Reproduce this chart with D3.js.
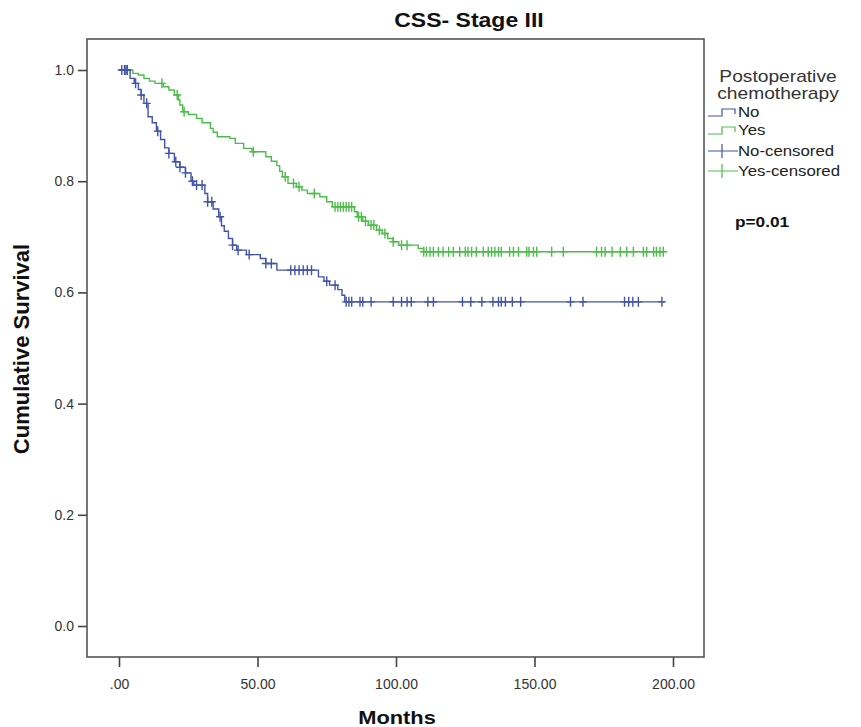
<!DOCTYPE html>
<html lang="en">
<head>
<meta charset="UTF-8">
<title>CSS- Stage III</title>
<script src="https://d3js.org/d3.v7.min.js"></script>
<style>
  body { margin: 0; background: #fff; }
  text { font-family: Arial, "Liberation Sans", sans-serif; }
</style>
</head>
<body>
<div id="chart"></div>
<script>
// Kaplan-Meier steps: time of drop, survival after drop
var noTimes = [4, 5.5, 7, 8, 9, 10.5, 12, 13.5, 15, 16.5, 18, 20, 22, 24, 26, 27, 31, 32, 34, 36, 37, 38, 39.5, 41, 42.5, 46, 51, 53, 57, 72, 74, 76, 79, 80.5, 81.5];
var noSurv  = [0.985, 0.976, 0.965, 0.955, 0.94, 0.916, 0.905, 0.89, 0.875, 0.86, 0.85, 0.835, 0.825, 0.815, 0.80, 0.793, 0.778, 0.763, 0.75, 0.736, 0.72, 0.71, 0.697, 0.685, 0.676, 0.668, 0.661, 0.652, 0.64, 0.628, 0.62, 0.613, 0.605, 0.595, 0.583];
var noCensored = [1, 2, 2.5, 3, 6, 8, 10, 14, 18, 20.5, 22, 24, 26.5, 28, 30, 32, 33.5, 36.5, 41, 43, 47, 53, 55, 62, 63.5, 65, 66.5, 68, 69.5, 75, 78, 82, 83, 84, 87, 88, 91, 99, 102, 104, 105.5, 111.5, 113.5, 124, 127, 131, 135, 137, 138, 139.5, 142, 145, 163, 167.5, 182.5, 184, 185.5, 187.5, 196];

var yesTimes = [5, 7, 9, 11, 13, 16, 18, 20, 21.5, 22, 23, 25, 28, 30, 33, 34, 35.5, 40, 42, 45, 48, 53, 55, 57, 58, 59, 61, 64, 66, 68, 72.5, 75, 77, 85, 86, 88, 90, 93, 95, 97, 99, 101, 108, 110];
var yesSurv  = [0.994, 0.991, 0.985, 0.98, 0.976, 0.97, 0.964, 0.955, 0.946, 0.937, 0.925, 0.92, 0.913, 0.905, 0.895, 0.888, 0.88, 0.877, 0.868, 0.859, 0.853, 0.844, 0.836, 0.828, 0.818, 0.808, 0.796, 0.79, 0.784, 0.778, 0.772, 0.763, 0.754, 0.745, 0.736, 0.728, 0.721, 0.712, 0.706, 0.697, 0.691, 0.685, 0.679, 0.673];
var yesCensored = [3, 15.5, 21, 23.5, 48.5, 60, 63, 65, 70.5, 78, 79, 80, 81, 82, 83, 84, 86.5, 87.5, 89, 91, 92, 94, 96, 99, 102, 104, 110, 111, 112.3, 113.5, 115.3, 117, 119, 120.7, 123, 125, 126, 127.3, 129, 131.5, 133.3, 134.5, 135.7, 137, 138, 141, 142.4, 144.2, 147.2, 148, 149.6, 150.8, 156.2, 160.4, 172.4, 174.2, 175.5, 178, 181, 183.3, 185.7, 189.3, 190.5, 193, 194, 195.3, 196.5];

var lastTime = 197;
var xTicks = [0, 50, 100, 150, 200];
var yTicks = [0, 0.2, 0.4, 0.6, 0.8, 1.0];
var legendLabels = ["No", "Yes", "No-censored", "Yes-censored"];

var blue = "#4254aa", green = "#4cbd4a";

var W = 861, H = 727;
var frame = {left: 87, right: 704, top: 39, bottom: 657};

var svg = d3.select("#chart").append("svg")
    .attr("width", W).attr("height", H);
svg.append("rect").attr("width", W).attr("height", H).attr("fill", "#fff");

var x = d3.scaleLinear().domain([0, 200]).range([119, 673]);
var y = d3.scaleLinear().domain([0, 1]).range([626, 70]);

// text in the source image is a bit wider than plain Arial
function label(px, py, str, size, bold, anchor, sx, color) {
    return svg.append("text")
        .attr("transform", "translate(" + px + "," + py + ") scale(" + sx + ",1)")
        .attr("text-anchor", anchor || "start")
        .style("font-size", size + "px")
        .style("font-weight", bold ? "bold" : "normal")
        .attr("fill", color || "#111")
        .text(str);
}

// frame
svg.append("rect")
    .attr("x", frame.left).attr("y", frame.top)
    .attr("width", frame.right - frame.left).attr("height", frame.bottom - frame.top)
    .attr("fill", "none").attr("stroke", "#555").attr("stroke-width", 1.6);

// axes
var yAxis = d3.axisLeft(y).tickValues(yTicks).tickSize(9).tickPadding(4)
    .tickFormat(d3.format(".1f"));
svg.append("g").attr("transform", "translate(" + frame.left + ",0)").call(yAxis)
    .call(function(g) { g.select(".domain").remove(); })
    .call(function(g) {
        g.selectAll("line").attr("stroke", "#444").attr("stroke-width", 1.6);
        g.selectAll("text").attr("fill", "#333").style("font-size", "14px")
          .style("font-family", "Arial, 'Liberation Sans', sans-serif");
    });

var xAxis = d3.axisBottom(x).tickValues(xTicks).tickSize(10).tickPadding(12)
    .tickFormat(function(d) { return d === 0 ? ".00" : d3.format(".2f")(d); });
svg.append("g").attr("transform", "translate(0," + frame.bottom + ")").call(xAxis)
    .call(function(g) { g.select(".domain").remove(); })
    .call(function(g) {
        g.selectAll("line").attr("stroke", "#444").attr("stroke-width", 1.6);
        g.selectAll("text").attr("fill", "#333").style("font-size", "14px")
          .style("font-family", "Arial, 'Liberation Sans', sans-serif");
    });

// titles
label(469, 27, "CSS- Stage III", 20, true, "middle", 1.15);
label(397, 724, "Months", 19, true, "middle", 1.15);
svg.append("text").attr("transform", "translate(29,349)rotate(-90)")
    .attr("text-anchor", "middle")
    .style("font-size", "22px").style("font-weight", "bold").attr("fill", "#111")
    .text("Cumulative Survival");

// survival curves
function stepPoints(times, surv) {
    var pts = [[0, 1]];
    times.forEach(function(t, i) { pts.push([t, surv[i]]); });
    pts.push([lastTime, surv[surv.length - 1]]);
    return pts;
}
function survAt(times, surv, t) {
    var s = 1;
    for (var i = 0; i < times.length; i++) { if (times[i] <= t) s = surv[i]; }
    return s;
}
var line = d3.line().x(function(d) { return x(d[0]); }).y(function(d) { return y(d[1]); })
    .curve(d3.curveStepAfter);

function drawGroup(times, surv, cens, color) {
    svg.append("path").datum(stepPoints(times, surv))
        .attr("d", line).attr("fill", "none").attr("stroke", color).attr("stroke-width", 1.4);
    var g = svg.append("g").attr("stroke", color).attr("stroke-width", 1.4);
    g.selectAll("path.c").data(cens).enter().append("path")
        .attr("d", function(t) {
            var cx = x(t), cy = y(survAt(times, surv, t));
            return "M" + (cx - 4) + "," + cy + "H" + (cx + 4) + "M" + cx + "," + (cy - 5) + "V" + (cy + 5);
        });
}
drawGroup(yesTimes, yesSurv, yesCensored, green);
drawGroup(noTimes, noSurv, noCensored, blue);

// legend
label(778, 82, "Postoperative", 16, false, "middle", 1.2, "#333");
label(778, 99, "chemotherapy", 16, false, "middle", 1.2, "#333");

var legendY = [112, 130, 151, 171];
var legendColors = [blue, green, blue, green];
legendLabels.forEach(function(lab, i) {
    var ly = legendY[i];
    if (i < 2) {
        svg.append("path").attr("d", "M708," + (ly + 4) + "H722V" + (ly - 3) + "H735V" + (ly + 2))
            .attr("fill", "none").attr("stroke", legendColors[i]).attr("stroke-width", 1.2);
    } else {
        svg.append("path").attr("d", "M708," + ly + "H738M722," + (ly - 7) + "V" + (ly + 7))
            .attr("fill", "none").attr("stroke", legendColors[i]).attr("stroke-width", 1.2);
    }
    label(738, ly + 5, lab, 14, false, "start", 1.2, "#222");
});

label(735, 227, "p=0.01", 15, true, "start", 1.15);
</script>
</body>
</html>
